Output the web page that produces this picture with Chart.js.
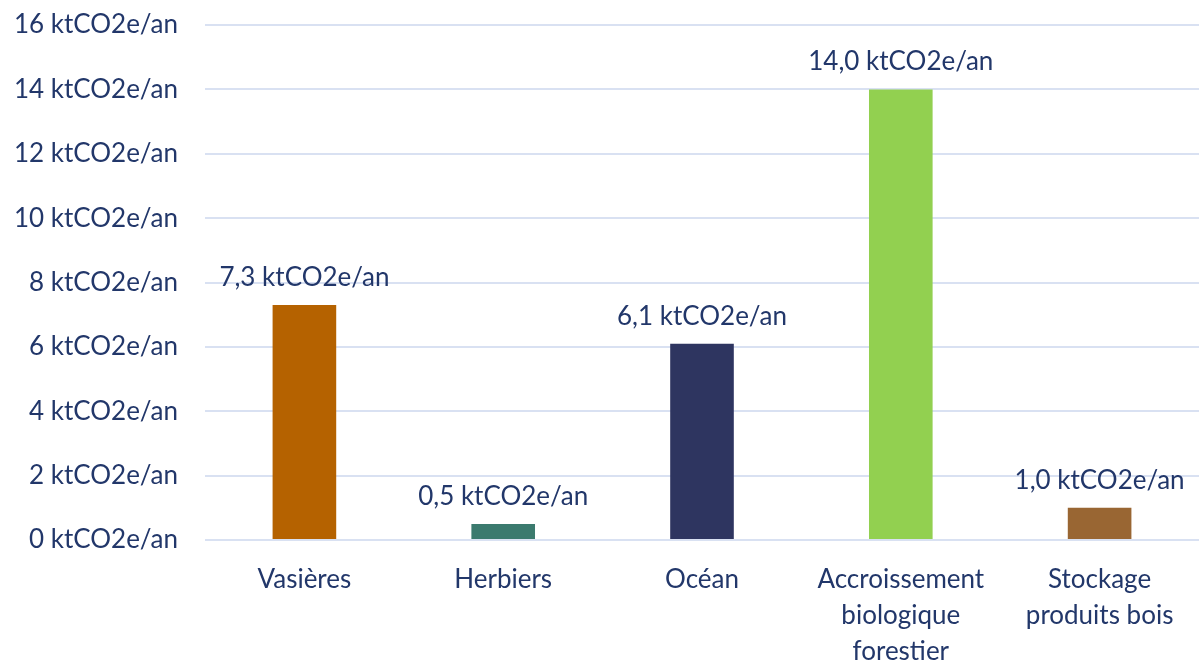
<!DOCTYPE html>
<html>
<head>
<meta charset="utf-8">
<script src="https://cdn.jsdelivr.net/npm/chart.js@4"></script>
<style>
  html, body { margin: 0; padding: 0; background: #ffffff; }
  #wrap { width: 1199px; height: 662px; position: relative; }
</style>
</head>
<body>
<div id="wrap"><canvas id="c"></canvas></div>
<script>
// Séquestration carbone par compartiment (ktCO2e/an)
const categories = [
  ['Vasières'],
  ['Herbiers'],
  ['Océan'],
  ['Accroissement', 'biologique', 'forestier'],
  ['Stockage', 'produits bois']
];
const values = [7.3, 0.5, 6.1, 14.0, 1.0];
const barColors = ['#B56200', '#3B7A6E', '#2E3560', '#92D050', '#996633'];
const yTicks = [0, 2, 4, 6, 8, 10, 12, 14, 16];

const textColor = '#22376A';
const gridColor = '#D9E1F2';
const fontFamily = 'Lato, "Open Sans", sans-serif';
const fontSize = 26;

const fmt = v => v.toFixed(1).replace('.', ',') + ' ktCO2e/an';

// Étiquettes de valeur au-dessus des barres
const valueLabels = {
  id: 'valueLabels',
  afterDatasetsDraw(chart) {
    const ctx = chart.ctx;
    const meta = chart.getDatasetMeta(0);
    ctx.save();
    ctx.font = fontSize + 'px ' + fontFamily;
    ctx.fillStyle = textColor;
    ctx.textAlign = 'center';
    ctx.textBaseline = 'alphabetic';
    meta.data.forEach((bar, i) => {
      ctx.fillText(fmt(values[i]), bar.x, bar.y - 19);
    });
    ctx.restore();
  }
};

new Chart(document.getElementById('c'), {
  type: 'bar',
  data: {
    labels: categories,
    datasets: [{
      data: values,
      backgroundColor: barColors,
      borderWidth: 0,
      barPercentage: 0.32,
      categoryPercentage: 1.0
    }]
  },
  options: {
    responsive: true,
    maintainAspectRatio: false,
    animation: false,
    layout: { padding: { top: 25, right: 0, left: 0, bottom: 0 } },
    plugins: {
      legend: { display: false },
      tooltip: { enabled: false }
    },
    scales: {
      x: {
        grid: { display: false },
        border: { display: false },
        ticks: {
          color: textColor,
          font: { family: fontFamily, size: fontSize, lineHeight: 36 / 26 },
          padding: 14,
          maxRotation: 0,
          autoSkip: false
        },
        afterFit(scale) { scale.height = 122; }
      },
      y: {
        min: 0,
        max: 16,
        grid: { color: gridColor, lineWidth: 2, drawTicks: false },
        border: { display: false },
        afterBuildTicks(scale) { scale.ticks = yTicks.map(v => ({ value: v })); },
        ticks: {
          color: textColor,
          font: { family: fontFamily, size: fontSize, lineHeight: 0.5 },
          padding: 27,
          callback: v => v + ' ktCO2e/an'
        },
        afterFit(scale) {
          scale.width = 205;
          scale.paddingTop = 0;
          scale.paddingBottom = 0;
        }
      }
    }
  },
  plugins: [valueLabels]
});
</script>
</body>
</html>
